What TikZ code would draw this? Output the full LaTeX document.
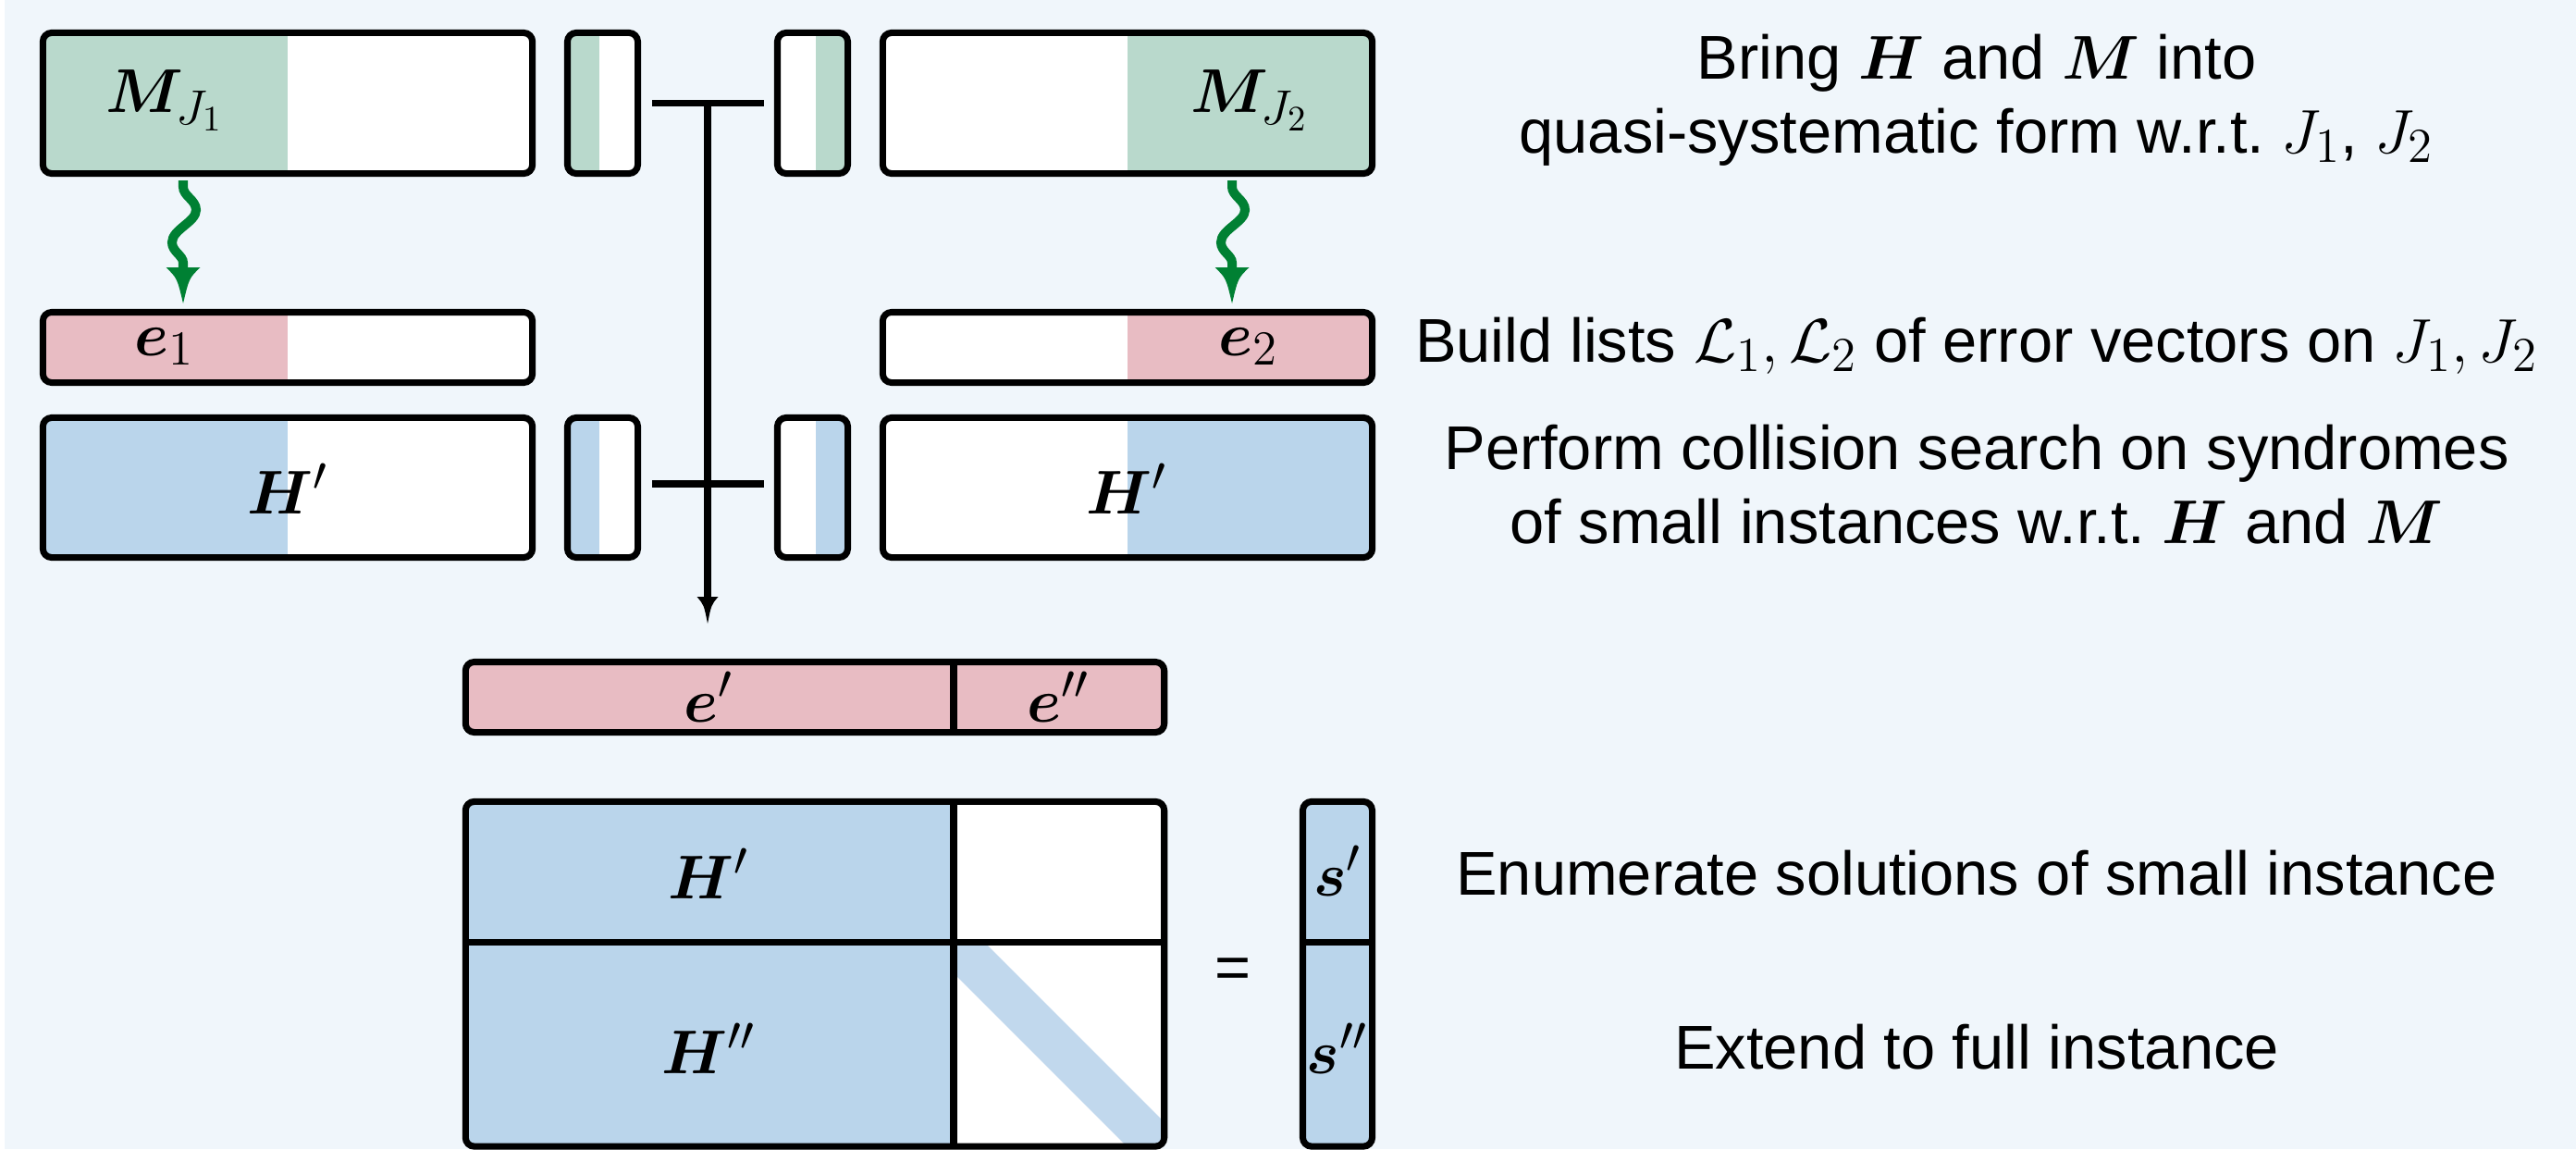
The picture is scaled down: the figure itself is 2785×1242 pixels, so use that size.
\RequirePackage{fix-cm}
\documentclass[tikz,border=0pt]{standalone}
\usepackage{amsmath,bm}
\usepackage{fontspec}
\setmainfont{Liberation Sans}
\usetikzlibrary{calc}
\DeclareMathSizes{19}{19}{15}{11}
\definecolor{bg}{RGB}{240,246,251}
\definecolor{cgreen}{RGB}{185,217,204}
\definecolor{cpink}{RGB}{232,188,195}
\definecolor{cblue}{RGB}{186,213,235}
\definecolor{cband}{RGB}{193,216,237}
\definecolor{darrow}{RGB}{0,128,51}
\newcommand\paint[2]{\begin{scope}\clip[rounded corners=2.7pt] (#1.south west) rectangle (#1.north east); #2 \end{scope}\draw[bord] (#1.south west) rectangle (#1.north east);}
\newcommand\myhead[5]{\fill[#1] ({#2-#5},#3) -- ({#2+#5},#3) .. controls ({#2+0.35*#5},{#3+0.3*(#4-#3)}) .. (#2,#4) .. controls ({#2-0.35*#5},{#3+0.3*(#4-#3)}) .. cycle;}
\begin{document}
\begin{tikzpicture}[x=0.01cm,y=-0.01cm,
  bx/.style={fill=white, draw=none, inner sep=0pt, outer sep=0pt, rounded corners=2.7pt},
  bord/.style={draw=black, line width=2pt, rounded corners=2.7pt},
  conn/.style={draw=black, line width=2pt},
  wavy/.style={draw=darrow, line width=2.85pt},
  lbl/.style={anchor=base, inner sep=0pt, font=\fontsize{19}{23}\selectfont},
  txt/.style={anchor=base, inner sep=0pt, font=\fontsize{19}{23}\selectfont}]
\useasboundingbox (0,0) rectangle (2785,1242);
\fill[white] (0,0) rectangle (2785,1242);
\fill[bg] (5,0) rectangle (2785,1242);

% boxes
\node[bx, minimum width=5.29cm, minimum height=1.52cm] (A) at (311,111.5) {};
\node[bx, minimum width=0.76cm, minimum height=1.52cm] (a1) at (651.5,111.5) {};
\node[bx, minimum width=0.76cm, minimum height=1.52cm] (a2) at (878.5,111.5) {};
\node[bx, minimum width=5.29cm, minimum height=1.52cm] (B) at (1219,111.5) {};
\node[bx, minimum width=5.29cm, minimum height=0.76cm] (E1) at (311,375.5) {};
\node[bx, minimum width=5.29cm, minimum height=0.76cm] (E2) at (1219,375.5) {};
\node[bx, minimum width=5.29cm, minimum height=1.51cm] (H1) at (311,527) {};
\node[bx, minimum width=0.76cm, minimum height=1.51cm] (b1) at (651.5,527) {};
\node[bx, minimum width=0.76cm, minimum height=1.51cm] (b2) at (878.5,527) {};
\node[bx, minimum width=5.29cm, minimum height=1.51cm] (H2) at (1219,527) {};
\node[bx, minimum width=7.55cm, minimum height=0.76cm] (EP) at (881,753.5) {};
\node[bx, minimum width=7.55cm, minimum height=3.725cm] (MX) at (881,1052.75) {};
\node[bx, minimum width=0.75cm, minimum height=3.725cm] (S) at (1446,1052.75) {};

\paint{A}{\fill[cgreen] (0,0) rectangle (311,300);}
\paint{a1}{\fill[cgreen] (0,0) rectangle (648,300);}
\paint{a2}{\fill[cgreen] (882,0) rectangle (1600,300);}
\paint{B}{\fill[cgreen] (1219,0) rectangle (1600,300);}
\paint{E1}{\fill[cpink] (0,300) rectangle (311,450);}
\paint{E2}{\fill[cpink] (1219,300) rectangle (1600,450);}
\paint{H1}{\fill[cblue] (0,440) rectangle (311,620);}
\paint{b1}{\fill[cblue] (0,440) rectangle (648,620);}
\paint{b2}{\fill[cblue] (882,440) rectangle (1600,620);}
\paint{H2}{\fill[cblue] (1219,440) rectangle (1600,620);}
\paint{EP}{\fill[cpink] (400,700) rectangle (1300,800);}
\paint{MX}{\fill[cblue] (400,850) rectangle (1031,1300);
  \begin{scope}\clip (1031,1018.5) rectangle (1300,1300);
  \draw[cband, line width=0.47cm] (1000,987.5) -- (1300,1287.5);\end{scope}}
\paint{S}{\fill[cblue] (1400,850) rectangle (1500,1300);}

% dividers
\draw[conn] (1031,715.5) -- (1031,791.5);
\draw[conn] (1031,866.5) -- (1031,1239);
\draw[conn] (503.5,1018.5) -- (1258.5,1018.5);
\draw[conn] (1408.5,1018.5) -- (1483.5,1018.5);

% labels
\node[lbl] (lA) at (178,121) {$\bm{M}_{J_1}$};
\node[lbl] (lB) at (1351,121) {$\bm{M}_{J_2}$};
\node[lbl] (lE1) at (178,384) {$\bm{e}_1$};
\node[lbl] (lE2) at (1350,384) {$\bm{e}_2$};
\node[lbl] (lH1) at (311,555) {$\bm{H}'$};
\node[lbl] (lH2) at (1218,555) {$\bm{H}'$};
\node[lbl] (lep) at (766,780) {$\bm{e}'$};
\node[lbl] (lepp) at (1144,780) {$\bm{e}''$};
\node[lbl] (lmh1) at (766,971) {$\bm{H}'$};
\node[lbl] (lmh2) at (766,1160) {$\bm{H}''$};
\node[lbl] (ls1) at (1446,968) {$\bm{s}'$};
\node[lbl] (ls2) at (1446,1160) {$\bm{s}''$};
\node[inner sep=0pt, font=\fontsize{19}{23}\selectfont] (eq) at (1333,1052) {=};

% T connectors
\coordinate (tj) at ($(a1.east)!0.5!(a2.west)$);
\draw[conn] ($(a1.east)+(15.5,0)$) -- ($(a2.west)+(-14.5,0)$);
\draw[conn] ($(b1.east)+(15.5,-4)$) -- ($(b2.west)+(-14.5,-4)$);
\coordinate (ab) at ($(tj |- EP.north)+(0,-69)$);
\draw[conn] (tj) -- (ab);
\myhead{black}{765}{645}{674}{11.5}

% wavy arrows
\foreach \dx/\nm in {0/w1,1134/w2}{
  \coordinate (\nm) at (198+\dx,195);
  \draw[wavy] (\nm) -- ++(0,7) .. controls +(0,10) and +(0,-11) .. ++(14,25)
     .. controls +(0,13) and +(0,-14) .. ++(-26,35)
     .. controls +(0,10) and +(0,-8) .. ++(12,22) -- ++(0,8);
  \myhead{darrow}{198+\dx}{289}{328}{18.5}
}

% right column text
\node[txt] (t1a) at (2137,85) {Bring $\bm{H}$ and $\bm{M}$ into};
\node[txt] (t1b) at (2137,165) {quasi-systematic form w.r.t.\ $J_1$, $J_2$};
\node[txt] (t2) at (2137,391) {Build lists $\mathcal{L}_1,\mathcal{L}_2$ of error vectors on $J_1,J_2$};
\node[txt] (t3a) at (2137,507) {Perform collision search on syndromes};
\node[txt] (t3b) at (2137,587) {of small instances w.r.t.\ $\bm{H}$ and $\bm{M}$};
\node[txt] (t4) at (2137,967) {Enumerate solutions of small instance};
\node[txt] (t5) at (2137,1155) {Extend to full instance};
\end{tikzpicture}
\end{document}
